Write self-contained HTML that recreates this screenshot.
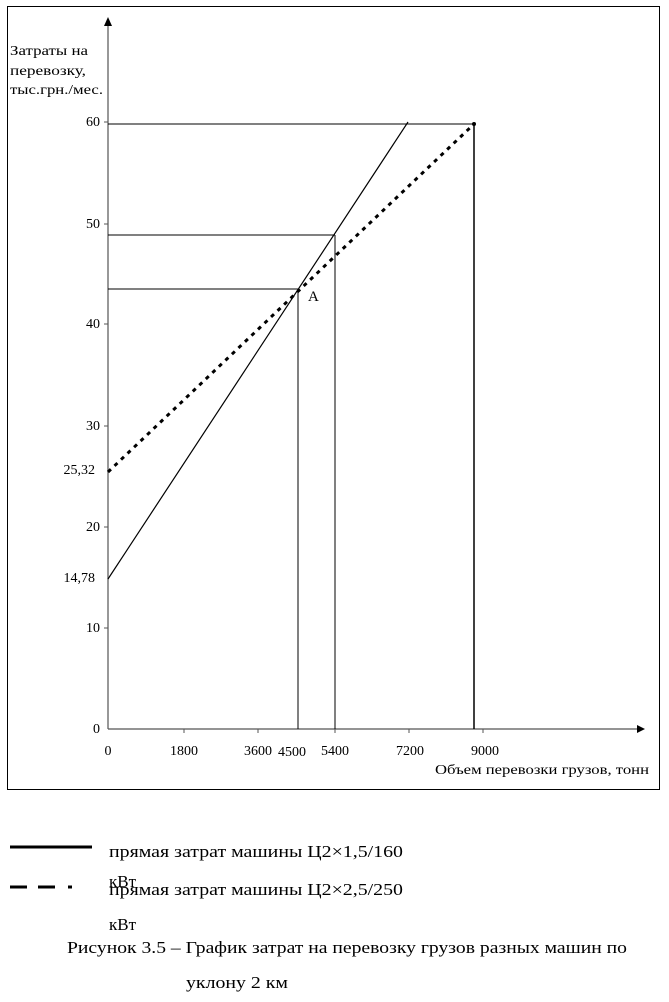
<!DOCTYPE html>
<html><head><meta charset="utf-8"><style>
body{margin:0;background:#fff;width:669px;height:1002px;overflow:hidden}
svg{display:block}
text{font-family:"Liberation Serif",serif;fill:#000}
.s{font-family:"Liberation Serif",serif;font-size:14px}
</style></head><body>
<svg width="669" height="1002" viewBox="0 0 669 1002">
<rect x="7.5" y="6.5" width="652" height="783" fill="none" stroke="#000" stroke-width="1"/>
<line x1="108" y1="729" x2="108" y2="24" stroke="#777" stroke-width="1.5"/>
<polygon points="104,26 112,26 108,17" fill="#000"/>
<line x1="108" y1="729" x2="638" y2="729" stroke="#555" stroke-width="1.2"/>
<polygon points="637,725 637,733 645,729" fill="#000"/>
<g stroke="#555" stroke-width="1">
<line x1="104" y1="122" x2="108" y2="122"/><line x1="104" y1="224" x2="108" y2="224"/>
<line x1="104" y1="324" x2="108" y2="324"/><line x1="104" y1="426" x2="108" y2="426"/>
<line x1="104" y1="527" x2="108" y2="527"/><line x1="104" y1="628" x2="108" y2="628"/>
<line x1="184" y1="729" x2="184" y2="733"/><line x1="258" y1="729" x2="258" y2="733"/>
<line x1="335" y1="729" x2="335" y2="733"/><line x1="409" y1="729" x2="409" y2="733"/>
<line x1="483" y1="729" x2="483" y2="733"/>
</g>
<g stroke="#000" stroke-width="1">
<line x1="108" y1="124" x2="474" y2="124"/>
<line x1="108" y1="235" x2="335" y2="235"/>
<line x1="108" y1="289" x2="298" y2="289"/>
<line x1="298" y1="289" x2="298" y2="729"/>
<line x1="335" y1="235" x2="335" y2="729"/>
<line x1="474" y1="124" x2="474" y2="729" stroke-width="1.5"/>
</g>
<line x1="108" y1="579" x2="408" y2="122" stroke="#000" stroke-width="1.2"/>
<line x1="108" y1="472" x2="474" y2="124" stroke="#000" stroke-width="3" stroke-dasharray="4,5"/>
<circle cx="474" cy="124" r="2" fill="#000"/>
<text class="s" x="10" y="55" textLength="78" lengthAdjust="spacingAndGlyphs">Затраты на</text>
<text class="s" x="10" y="75" textLength="76" lengthAdjust="spacingAndGlyphs">перевозку,</text>
<text class="s" x="10" y="94" textLength="93" lengthAdjust="spacingAndGlyphs">тыс.грн./мес.</text>
<g text-anchor="end">
<text class="s" x="100" y="126">60</text><text class="s" x="100" y="228">50</text>
<text class="s" x="100" y="328">40</text><text class="s" x="100" y="430">30</text>
<text class="s" x="100" y="531">20</text><text class="s" x="100" y="632">10</text>
<text class="s" x="100" y="733">0</text>
<text class="s" x="95" y="474">25,32</text><text class="s" x="95" y="582">14,78</text>
</g>
<g text-anchor="middle">
<text class="s" x="108" y="755">0</text><text class="s" x="184" y="755">1800</text>
<text class="s" x="258" y="755">3600</text><text class="s" x="292" y="756">4500</text>
<text class="s" x="335" y="755">5400</text><text class="s" x="410" y="755">7200</text>
<text class="s" x="485" y="755">9000</text>
</g>
<text class="s" x="435" y="774" textLength="214" lengthAdjust="spacingAndGlyphs">Объем перевозки грузов, тонн</text>
<text x="308" y="301" font-size="15">A</text>
<line x1="10" y1="847" x2="92" y2="847" stroke="#000" stroke-width="3"/>
<line x1="10" y1="887" x2="27" y2="887" stroke="#000" stroke-width="3"/>
<line x1="38" y1="887" x2="55" y2="887" stroke="#000" stroke-width="3"/>
<line x1="68" y1="887" x2="72" y2="887" stroke="#000" stroke-width="3"/>
<text x="109" y="857" font-size="17" textLength="294" lengthAdjust="spacingAndGlyphs">прямая затрат машины Ц2×1,5/160</text>
<text x="109" y="887" font-size="17">кВт</text>
<text x="109" y="895" font-size="17" textLength="294" lengthAdjust="spacingAndGlyphs">прямая затрат машины Ц2×2,5/250</text>
<text x="109" y="930" font-size="17">кВт</text>
<text x="67" y="953" font-size="17" textLength="560" lengthAdjust="spacingAndGlyphs">Рисунок 3.5 – График затрат на перевозку грузов разных машин по</text>
<text x="186" y="988" font-size="17" textLength="102" lengthAdjust="spacingAndGlyphs">уклону 2 км</text>
</svg>
</body></html>
